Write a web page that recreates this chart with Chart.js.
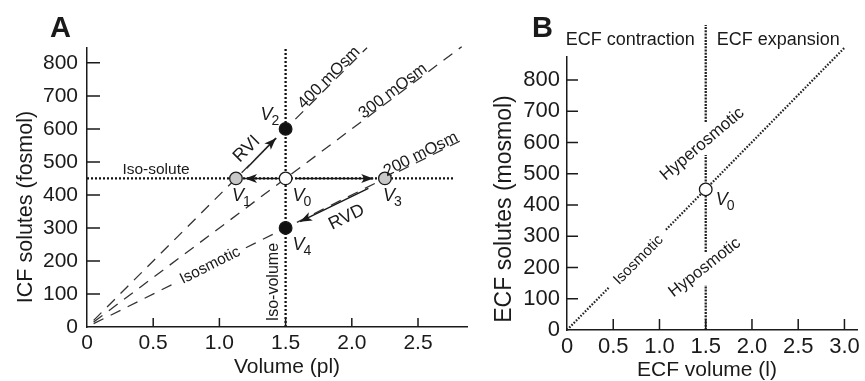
<!DOCTYPE html>
<html>
<head>
<meta charset="utf-8">
<script src="https://cdn.jsdelivr.net/npm/chart.js@4.4.1/dist/chart.umd.min.js"></script>
<style>
  body { margin: 0; background: #fff; }
  .panel { position: absolute; top: 0; height: 381px; }
  #panelA { left: 0; width: 480px; }
  #panelB { left: 480px; width: 385px; }
</style>
</head>
<body>
<div class="panel" id="panelA"><canvas id="chartA"></canvas></div>
<div class="panel" id="panelB"><canvas id="chartB"></canvas></div>
<script>
// ---- panel A: cell volume vs ICF solutes ----
var volTicksA = [0, 0.5, 1.0, 1.5, 2.0, 2.5];
var soluteTicksA = [0, 100, 200, 300, 400, 500, 600, 700, 800];
var isoSoluteA = [{x: 0, y: 450}, {x: 2.77, y: 450}];
var isoVolumeA = [{x: 1.5, y: 0}, {x: 1.5, y: 845}];
var osm400A = [{x: 0.05, y: 20}, {x: 2.115, y: 846}];
var osm300A = [{x: 0.05, y: 15}, {x: 2.83, y: 849}];
var osm200A = [{x: 0.05, y: 10}, {x: 0.67, y: 134}, {x: 0.9, y: null}, {x: 1.2, y: 240}, {x: 2.83, y: 566}];
var stateVolA = [1.5, 1.125, 1.5, 2.25, 1.5];
var stateSoluteA = [450, 450, 600, 450, 300];
var stateFillA = ['#ffffff', '#c8c8c8', '#111111', '#c8c8c8', '#111111'];
var shrinkArrowA = [{x: 1.458, y: 450}, {x: 1.193, y: 450}];
var swellArrowA = [{x: 1.584, y: 450}, {x: 2.162, y: 450}];
var rviArrowA = [{x: 1.206, y: 481}, {x: 1.427, y: 572}];
var rvdArrowA = [{x: 2.125, y: 420}, {x: 1.609, y: 319}];

// ---- panel B: ECF volume vs ECF solutes ----
var volTicksB = [0, 0.5, 1.0, 1.5, 2.0, 2.5, 3.0];
var soluteTicksB = [0, 100, 200, 300, 400, 500, 600, 700, 800];
var isosmoticB = [{x: 0, y: 0}, {x: 0.46, y: 138}, {x: 0.7, y: null}, {x: 1.07, y: 321}, {x: 3.0, y: 903}];
var normalVolumeB = [{x: 1.5, y: 0}, {x: 1.5, y: 144}, {x: 1.5, y: null}, {x: 1.5, y: 250}, {x: 1.5, y: 560},
                     {x: 1.5, y: null}, {x: 1.5, y: 666}, {x: 1.5, y: 976}];
var stateVolB = [1.5];
var stateSoluteB = [450];

var FONT = '"Liberation Sans", Arial, Helvetica, sans-serif';
var INK = '#1a1a1a';

function fmtVol(v) { return v === 0 ? '0' : v.toFixed(1); }
function pts(xs, ys) { return xs.map(function (x, i) { return {x: x, y: ys[i]}; }); }

// text labels placed in data space (at) or canvas pixels (px)
function notesPlugin(items) {
  return {
    id: 'notes',
    afterDatasetsDraw: function (chart) {
      var ctx = chart.ctx, xs = chart.scales.x, ys = chart.scales.y;
      items.forEach(function (n) {
        var px = n.at ? xs.getPixelForValue(n.at[0]) : n.px[0];
        var py = n.at ? ys.getPixelForValue(n.at[1]) : n.px[1];
        ctx.save();
        ctx.translate(px + (n.dx || 0), py + (n.dy || 0));
        ctx.rotate((n.rot || 0) * Math.PI / 180);
        ctx.fillStyle = INK;
        ctx.font = (n.style || 'normal') + ' ' + (n.weight || 'normal') + ' ' + n.size + 'px ' + FONT;
        ctx.textAlign = n.align || 'center';
        ctx.textBaseline = n.base || 'middle';
        ctx.fillText(n.text, 0, -(n.off || 0));
        if (n.sub) {
          var w = ctx.measureText(n.text).width;
          ctx.font = (n.size * 0.78) + 'px ' + FONT;
          ctx.fillText(n.sub, w - 1, 5);
        }
        ctx.restore();
      });
    }
  };
}

// short tick marks pointing into the plot
function tickMarks(lenX, lenY) {
  return {
    id: 'tickMarks',
    afterDraw: function (chart) {
      var ctx = chart.ctx, a = chart.chartArea, xs = chart.scales.x, ys = chart.scales.y;
      ctx.save();
      ctx.strokeStyle = INK;
      ctx.lineWidth = 1.5;
      ctx.beginPath();
      xs.ticks.forEach(function (t) {
        if (t.value === 0) return;
        var p = xs.getPixelForValue(t.value);
        ctx.moveTo(p, a.bottom); ctx.lineTo(p, a.bottom - lenX);
      });
      ys.ticks.forEach(function (t) {
        if (t.value === 0) return;
        var p = ys.getPixelForValue(t.value);
        ctx.moveTo(a.left, p); ctx.lineTo(a.left + lenY, p);
      });
      ctx.stroke();
      ctx.restore();
    }
  };
}

var arrowHeads = {
  id: 'arrowHeads',
  afterDatasetsDraw: function (chart) {
    var ctx = chart.ctx;
    chart.data.datasets.forEach(function (ds, i) {
      if (!ds.arrow) return;
      var el = chart.getDatasetMeta(i).data;
      var a = el[el.length - 2], b = el[el.length - 1];
      ctx.save();
      ctx.translate(b.x, b.y);
      ctx.rotate(Math.atan2(b.y - a.y, b.x - a.x));
      ctx.beginPath();
      ctx.moveTo(0, 0); ctx.lineTo(-12, -4.5); ctx.lineTo(-9, 0); ctx.lineTo(-12, 4.5);
      ctx.closePath();
      ctx.fillStyle = INK;
      ctx.fill();
      ctx.restore();
    });
  }
};

function axes(o) {
  return {
    x: {
      type: 'linear', min: 0, max: o.xMax,
      afterBuildTicks: function (s) { s.ticks = o.xTicks.map(function (v) { return {value: v}; }); },
      afterFit: function (s) { s.height = o.xHeight; },
      grid: { display: false, drawTicks: false },
      border: { display: true, color: INK, width: 1.5 },
      ticks: { autoSkip: false, maxRotation: 0, padding: o.xPad, color: INK,
               font: { family: FONT, size: o.tickSize }, callback: fmtVol }
    },
    y: {
      type: 'linear', min: 0, max: o.yMax,
      afterBuildTicks: function (s) { s.ticks = o.yTicks.map(function (v) { return {value: v}; }); },
      afterFit: function (s) { s.width = o.yWidth; },
      grid: { display: false, drawTicks: false },
      border: { display: true, color: INK, width: 1.5 },
      ticks: { autoSkip: false, padding: o.yPad, color: INK,
               font: { family: FONT, size: o.tickSize }, callback: function (v) { return String(v); } }
    }
  };
}

function lineSet(data, dash, width, color, arrow) {
  return { type: 'line', data: data, borderColor: color, borderWidth: width, borderDash: dash,
           pointRadius: 0, fill: false, tension: 0, spanGaps: false, clip: false, order: 2, arrow: !!arrow };
}

function pointSet(data, fills) {
  return { type: 'scatter', data: data, pointRadius: 6.3, pointBorderWidth: 1.3,
           pointBackgroundColor: fills, pointBorderColor: INK, showLine: false, clip: false, order: 0 };
}

// ---- chart A ----
var vOffsetsA = [[7, 23], [-4, 23], [-25, -9], [-2, 23], [7, 22]];
var notesA = [
  {text: 'A', px: [50, 37], size: 29, weight: 'bold', align: 'left', base: 'alphabetic'},
  {text: 'ICF solutes (fosmol)', px: [26, 207], size: 21.5, rot: -90},
  {text: 'Volume (pl)', px: [287, 373], size: 21, base: 'alphabetic'},
  {text: 'Iso-solute', at: [0.521, 476], size: 15.5},
  {text: 'Iso-volume', at: [1.412, 136], size: 16, rot: -90},
  {text: 'Isosmotic', at: [0.929, 186], size: 15.5, rot: -26.57},
  {text: '400 mOsm', at: [1.858, 743], size: 16.5, rot: -45, base: 'alphabetic', off: 1},
  {text: '300 mOsm', at: [2.337, 701], size: 16.5, rot: -36.87, base: 'alphabetic', off: 1},
  {text: '200 mOsm', at: [2.54, 508], size: 16.5, rot: -26.57, base: 'alphabetic', off: 1},
  {text: 'RVI', at: [1.206, 539], size: 18, rot: -45},
  {text: 'RVD', at: [1.961, 332], size: 18, rot: -26}
];
stateVolA.forEach(function (v, i) {
  notesA.push({text: 'V', sub: String(i), at: [v, stateSoluteA[i]], dx: vOffsetsA[i][0], dy: vOffsetsA[i][1],
               size: 18, style: 'italic', align: 'left', base: 'alphabetic'});
});

new Chart(document.getElementById('chartA'), {
  type: 'scatter',
  data: {
    datasets: [
      pointSet(pts(stateVolA, stateSoluteA), stateFillA),
      lineSet(isoSoluteA, [2, 2], 2.3, '#111'),
      lineSet(isoVolumeA, [2, 2], 2.3, '#111'),
      lineSet(osm400A, [11, 8], 1.3, '#333'),
      lineSet(osm300A, [11, 8], 1.3, '#333'),
      lineSet(osm200A, [11, 8], 1.3, '#333'),
      lineSet(shrinkArrowA, [], 1.5, INK, true),
      lineSet(swellArrowA, [], 1.5, INK, true),
      lineSet(rviArrowA, [], 1.5, INK, true),
      lineSet(rvdArrowA, [], 1.5, INK, true)
    ]
  },
  options: {
    responsive: true,
    maintainAspectRatio: false,
    animation: false,
    layout: { padding: { left: 0, top: 48, right: 13, bottom: 0 } },
    scales: axes({ xTicks: volTicksA, xMax: 2.87, yTicks: soluteTicksA, yMax: 845,
                   xHeight: 54, yWidth: 87, tickSize: 21, xPad: 4, yPad: 9 }),
    plugins: { legend: { display: false }, tooltip: { enabled: false } }
  },
  plugins: [tickMarks(9, 13), arrowHeads, notesPlugin(notesA)]
});

// ---- chart B ----
var notesB = [
  {text: 'B', px: [52, 37], size: 29, weight: 'bold', align: 'left', base: 'alphabetic'},
  {text: 'ECF solutes (mosmol)', px: [25, 209], size: 23, rot: -90},
  {text: 'ECF volume (l)', px: [227, 376], size: 21, base: 'alphabetic'},
  {text: 'ECF contraction', at: [1.5, 912], dx: -11, size: 18, align: 'right', base: 'alphabetic'},
  {text: 'ECF expansion', at: [1.5, 912], dx: 11, size: 18, align: 'left', base: 'alphabetic'},
  {text: 'Hyperosmotic', at: [1.463, 595], size: 17, rot: -40},
  {text: 'Hyposmotic', at: [1.489, 200], size: 16.5, rot: -38},
  {text: 'Isosmotic', at: [0.774, 224], size: 15, rot: -45},
  {text: 'V', sub: '0', at: [stateVolB[0], stateSoluteB[0]], dx: 10, dy: 16, size: 18, style: 'italic', align: 'left', base: 'alphabetic'}
];

new Chart(document.getElementById('chartB'), {
  type: 'scatter',
  data: {
    datasets: [
      pointSet(pts(stateVolB, stateSoluteB), ['#ffffff']),
      lineSet(isosmoticB, [1.6, 1.6], 2.2, '#222'),
      lineSet(normalVolumeB, [2, 1.2], 2.3, '#222')
    ]
  },
  options: {
    responsive: true,
    maintainAspectRatio: false,
    animation: false,
    layout: { padding: { left: 0, top: 57, right: 2, bottom: 0 } },
    scales: axes({ xTicks: volTicksB, xMax: 3.14, yTicks: soluteTicksB, yMax: 873.6,
                   xHeight: 51, yWidth: 87, tickSize: 22, xPad: 4, yPad: 7 }),
    plugins: { legend: { display: false }, tooltip: { enabled: false } }
  },
  plugins: [tickMarks(11, 11), arrowHeads, notesPlugin(notesB)]
});
</script>
</body>
</html>
